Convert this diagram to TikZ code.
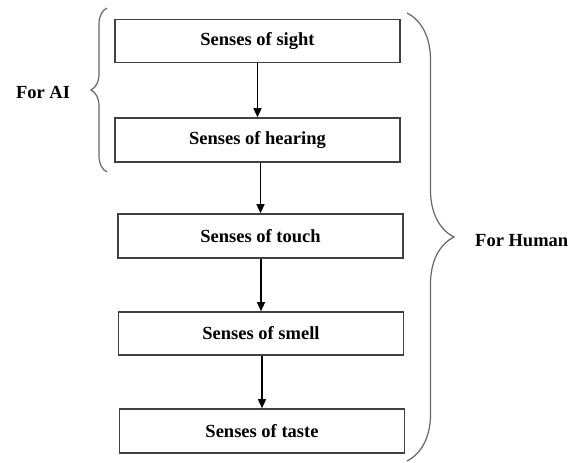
\documentclass[tikz,border=0pt]{standalone}
\usepackage{fontspec}
\setmainfont{Liberation Serif}
\usetikzlibrary{arrows.meta,decorations.pathreplacing}
\begin{document}
\begin{tikzpicture}[x=1pt,y=-1pt,
    sense/.style={shape=rectangle,draw=black!75,line width=1.6pt,minimum width=285pt,
      minimum height=43pt,inner sep=0pt,font=\bfseries\fontsize{18.5}{21}\selectfont},
    flow/.style={-{Triangle[length=9pt,width=8pt]},line width=1.3pt},
    group/.style={draw=black!60,line width=1.2pt,decorate,decoration={brace,amplitude=#1}},
    side/.style={font=\bfseries\fontsize{18.5}{21}\selectfont,inner sep=0pt}]
  \useasboundingbox (0,0) rectangle (568,463);

  \node[sense] (S1) at (257.5,41) {Senses of sight};
  \node[sense,minimum height=44pt] (S2) at (257.5,140) {Senses of hearing};
  \node[sense,minimum height=44pt] (S3) at (260.5,236) {Senses of touch};
  \node[sense] (S4) at (261,333.5) {Senses of smell};
  \node[sense,minimum height=44pt] (S5) at (262,431) {Senses of taste};

  \draw[flow] (S1.south) -- (S1.south |- S2.north);
  \draw[flow] (S2.south -| S3.north) -- (S3.north);
  \draw[flow] (S3.south -| S4.north) -- (S4.north);
  \draw[flow] (S4.south -| S5.north) -- (S5.north);

  \coordinate (AIlow) at (107,172);
  \coordinate (AIhigh) at (107,8);
  \coordinate (Hhigh) at (407,13);
  \coordinate (Hlow) at (407,461);
  \draw[group=16pt] (AIlow) -- (AIhigh);
  \draw[group=47pt] (Hhigh) -- (Hlow);

  \node[side] (AI) at (43,92) {For AI};
  \node[side,anchor=west] (H) at (475,241) {For Human};
\end{tikzpicture}
\end{document}
